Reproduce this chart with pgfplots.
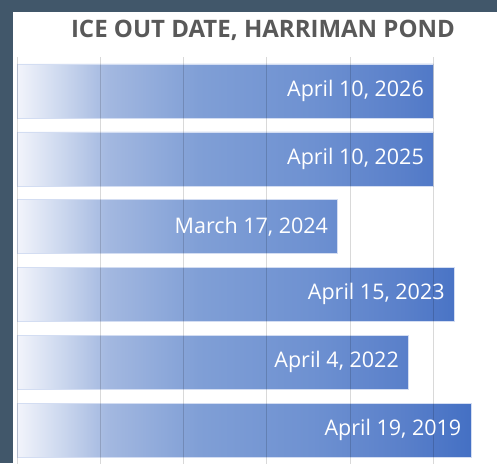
\documentclass[border=0pt]{standalone}
\usepackage{pgfplots}
\pgfplotsset{compat=1.18}
\usepackage{fontspec}
\setmainfont{Open Sans}
\definecolor{frame}{HTML}{41576A}
\definecolor{titlegray}{HTML}{595959}
\definecolor{s0}{HTML}{F2F4FB}
\definecolor{s1}{HTML}{CBD7EE}
\definecolor{s2}{HTML}{A3B8E0}
\definecolor{s3}{HTML}{809FD6}
\definecolor{s4}{HTML}{6E91D1}
\definecolor{s5}{HTML}{5A80CA}
\definecolor{s6}{HTML}{4470C4}
\definecolor{cB}{HTML}{D3DDF2}
\pgfdeclarehorizontalshading{barshade}{100bp}{color(0bp)=(s0); color(25bp)=(s0); color(30bp)=(s1); color(35bp)=(s2); color(45bp)=(s3); color(57.5bp)=(s4); color(67.5bp)=(s5); color(75bp)=(s6); color(100bp)=(s6)}
\begin{document}
\begin{tikzpicture}[x=1pt,y=1pt]
\useasboundingbox (-17,0.9) rectangle (480,463.9);
\fill[frame] (-17,0.9) rectangle (480,463.9);
\fill[white] (-4,0.9) rectangle (480,451.9);
\node[font=\bfseries\fontsize{24}{28}\selectfont, text=titlegray] at (246,433.9) {ICE OUT DATE, HARRIMAN POND};
\begin{axis}[
  scale only axis, width=480pt, height=406.8pt,
  xmin=0, xmax=115.3, ymin=-0.5, ymax=5.5,
  axis line style={draw=none},
  xtick={0,20,40,60,80,100}, xticklabels={},
  ytick=\empty, major tick length=0pt,
  xmajorgrids, grid style={black, opacity=0.15, line width=0.8pt},
  axis on top,
  clip=false,
]
\addplot[xbar, bar width=54pt, draw=cB, line width=0.4pt,
  shading=barshade,
  point meta=explicit symbolic,
  nodes near coords,
  every node near coord/.append style={anchor=east, xshift=-6pt, text=white, font=\fontsize{21.5}{25}\selectfont},
] coordinates {
  (109,0) [April 19, 2019]
  (94,1) [April 4, 2022]
  (105,2) [April 15, 2023]
  (77,3) [March 17, 2024]
  (100,4) [April 10, 2025]
  (100,5) [April 10, 2026]
};
\end{axis}
\end{tikzpicture}
\end{document}
